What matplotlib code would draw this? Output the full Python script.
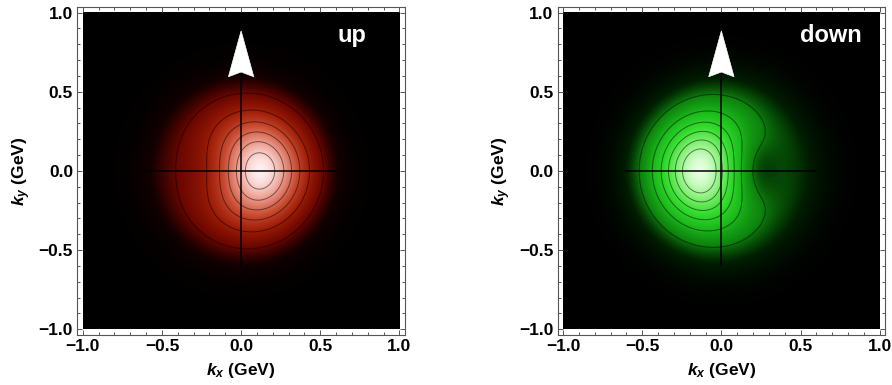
"""
Transverse-momentum densities of unpolarised up and down quarks in a
transversely polarised proton (spin along +y, shown by the white arrow).

    rho(kx, ky) = exp(-k^2 / <k^2>) + N_S * kx * exp(-k^2 / <k^2>_S)

The second term is the Sivers distortion; its sign shifts the density to
+kx for up quarks and to -kx for down quarks.
"""

import matplotlib.pyplot as plt
import numpy as np
from matplotlib.colors import LinearSegmentedColormap
from matplotlib.patches import Polygon
from matplotlib.ticker import FuncFormatter, MultipleLocator

plt.rcParams["font.family"] = ["Liberation Sans", "DejaVu Sans"]
plt.rcParams["font.weight"] = "bold"
plt.rcParams["mathtext.fontset"] = "custom"
plt.rcParams["mathtext.it"] = "Liberation Sans:italic:bold"
plt.rcParams["mathtext.rm"] = "Liberation Sans:bold"
plt.rcParams["mathtext.bf"] = "Liberation Sans:bold"

# flavour parameters (GeV units)
FLAVOURS = ["up", "down"]
UNPOL_WIDTH = [0.14, 0.14]        # <k^2>
SIVERS_WIDTH = [0.07, 0.067]      # <k^2>_S
SIVERS_NORM = [3.19, -5.09]       # GeV^-1
CONTOUR_STEP = [0.18, 0.193]
N_CONTOURS = 6

COLOR_STOPS = {
    "up": [(0.0, "#000000"), (0.06, "#120000"), (0.15, "#6a0600"),
           (0.30, "#9c1c06"), (0.50, "#c84a30"), (0.75, "#ec9a8c"),
           (1.0, "#ffeeee")],
    "down": [(0.0, "#000000"), (0.06, "#001e00"), (0.15, "#0e860e"),
             (0.30, "#1cbc1c"), (0.50, "#36de30"), (0.75, "#8cf27c"),
             (1.0, "#e6ffe0")],
}

CROSS_HALF = 0.6
ARROW_TIP = 0.885
ARROW_BASE = 0.595
ARROW_NOTCH = 0.625
ARROW_HALF = 0.08
LABEL_X = [0.70, 0.69]
LABEL_Y = 0.815


def density(kx, ky, w, ws, ns):
    k2 = kx ** 2 + ky ** 2
    return np.exp(-k2 / w) + ns * kx * np.exp(-k2 / ws)


def minus_fmt(v, _):
    return f"{v:.1f}".replace("-", "\u2212")


fig = plt.figure(figsize=(8.92, 3.85), dpi=100)
fig.patch.set_facecolor("white")

positions = [[0.0866, 0.1304, 0.3674, 0.8512], [0.625, 0.1304, 0.3674, 0.8512]]

k = np.linspace(-1.0, 1.0, 501)
KX, KY = np.meshgrid(k, k)

for i, name in enumerate(FLAVOURS):
    ax = fig.add_axes(positions[i])
    rho = density(KX, KY, UNPOL_WIDTH[i], SIVERS_WIDTH[i], SIVERS_NORM[i])
    rho = np.clip(rho, 0, None)
    cmap = LinearSegmentedColormap.from_list(name, COLOR_STOPS[name])
    ax.imshow(cmap(rho / rho.max()), extent=(-1, 1, -1, 1), origin="lower",
              interpolation="bilinear", zorder=0)

    levels = [CONTOUR_STEP[i] * (n + 1) for n in range(N_CONTOURS)]
    ax.contour(KX, KY, rho, levels=levels, colors="black", linewidths=0.7,
               alpha=0.5, zorder=1)

    ax.plot([-CROSS_HALF, CROSS_HALF], [0, 0], color="black", lw=1.1, zorder=2)
    ax.plot([0, 0], [-CROSS_HALF, CROSS_HALF], color="black", lw=1.1, zorder=2)

    arrow = Polygon([(0, ARROW_TIP), (ARROW_HALF, ARROW_BASE), (0, ARROW_NOTCH),
                     (-ARROW_HALF, ARROW_BASE)], closed=True, fc="white",
                    ec="white", lw=0.5, zorder=3)
    ax.add_patch(arrow)

    ax.text(LABEL_X[i], LABEL_Y, name, color="white", fontsize=17,
            fontweight="bold", ha="center", va="baseline", zorder=4)

    ax.set_xlim(-1.035, 1.035)
    ax.set_ylim(-1.035, 1.035)
    ax.set_facecolor("white")

    for axis in (ax.xaxis, ax.yaxis):
        axis.set_major_locator(MultipleLocator(0.5))
        axis.set_minor_locator(MultipleLocator(0.1))
        axis.set_major_formatter(FuncFormatter(minus_fmt))
    ax.tick_params(which="both", direction="in", top=True, right=True,
                   color="#555555", width=0.7, labelsize=12.5, pad=3)
    ax.tick_params(which="major", length=3.5)
    ax.tick_params(which="minor", length=2.0)
    for spine in ax.spines.values():
        spine.set_color("#555555")
        spine.set_linewidth(0.8)

    ax.set_xlabel(r"$k_x$ (GeV)", fontsize=12.5, fontweight="bold", labelpad=5)
    ax.set_ylabel(r"$k_y$ (GeV)", fontsize=12.5, fontweight="bold", labelpad=4)

fig.savefig("out.png", dpi=100, facecolor="white")
